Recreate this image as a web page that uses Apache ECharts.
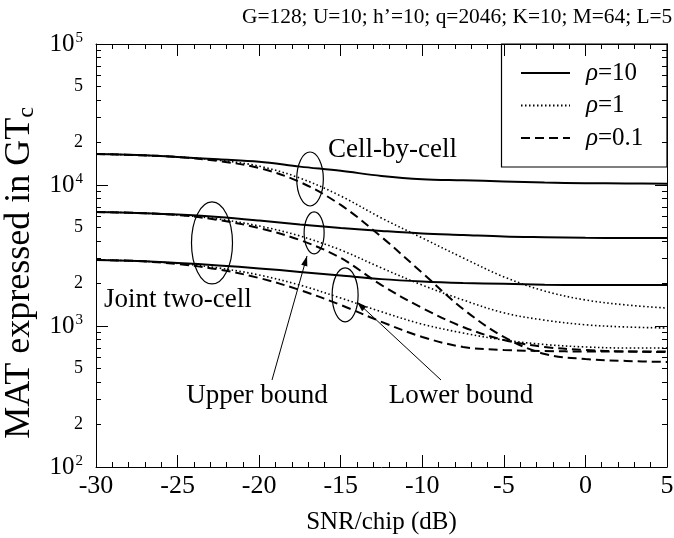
<!DOCTYPE html>
<html><head><meta charset="utf-8">
<script src="https://cdn.jsdelivr.net/npm/echarts@6/dist/echarts.min.js"></script>
<style>html,body{margin:0;padding:0;background:#fff}#c{width:674px;height:538px}</style>
</head><body><div id="c"></div>
<script>
// ---- data ----
const snr = [-30,-27.5,-25,-22.5,-20,-17.5,-15,-12.5,-10,-7.5,-5,-2.5,0,2.5,5];
const cellRho10  = [16600,16300,15800,15200,14600,13500,12600,11600,11000,10800,10600,10400,10300,10250,10200];
const cellRho1   = [16600,16300,15800,15000,13600,11200,8360,5830,4210,3040,2230,1770,1530,1410,1340];
const cellRho01  = [16600,16300,15800,14800,13200,10500,7220,4280,2380,1320,836,633,583,565,556];
const upperRho10 = [6440,6330,6180,5930,5600,5250,4950,4720,4530,4420,4310,4260,4220,4210,4210];
const upperRho1  = [6440,6330,6130,5740,5120,4350,3460,2580,1950,1530,1240,1100,1020,984,968];
const upperRho01 = [6440,6330,6130,5650,4950,4070,3040,1950,1340,984,796,710,676,659,654];
const lowerRho10 = [2940,2890,2800,2690,2560,2420,2280,2150,2070,2020,1990,1960,1950,1950,1950];
const lowerRho1  = [2940,2890,2780,2580,2300,1950,1580,1260,1030,892,796,739,710,698,698];
const lowerRho01 = [2940,2890,2750,2520,2190,1800,1410,1070,836,710,676,665,659,659,659];
const legendNames = ['\u03c1=10','\u03c1=1','\u03c1=0.1'];
const yLabelValues = [100,200,500,1000,2000,5000,10000,20000,50000,100000];
const yMinorTickValues = [200,300,400,500,600,700,800,900,2000,3000,4000,5000,6000,7000,8000,9000,20000,30000,40000,50000,60000,70000,80000,90000];
const yMajorTickValues = [100,1000,10000,100000];

const FONT = '"Liberation Serif","DejaVu Serif",serif';
const styles = [
  {type:'solid', width:2},
  {type:[1.5,2.5], width:1.6},
  {type:[9,5], width:2}
];
const groups = [
  [cellRho10, cellRho1, cellRho01],
  [upperRho10, upperRho1, upperRho01],
  [lowerRho10, lowerRho1, lowerRho01]
];
const series = [];
groups.forEach(g => g.forEach((arr, k) => {
  series.push({
    type:'line', name: legendNames[k], symbol:'none', showSymbol:false, smooth:0.35,
    xAxisIndex:0, yAxisIndex:0,
    lineStyle:{color:'#000', width:styles[k].width, type:styles[k].type},
    itemStyle:{color:'#000'},
    data: snr.map((x,i)=>[x, arr[i]])
  });
}));

function yFmt(v){
  const e = Math.round(Math.log10(v));
  if (Math.abs(Math.pow(10,e)-v) < 1e-6*v) return '{b|10}{s|'+e+'}';
  const p = Math.pow(10, Math.floor(Math.log10(v)+1e-9));
  return '{m|'+Math.round(v/p)+'}';
}
function xAxisOpt(pos, withLabels){
  const o = {type:'value', min:-30, max:5, interval:5, position:pos, splitLine:{show:false},
    axisLine:{show:true, onZero:false, lineStyle:{color:'#000', width:1}},
    axisTick:{show:true, inside:true, length:12, lineStyle:{color:'#000'}},
    minorTick:{show:true, splitNumber:5, length:5, lineStyle:{color:'#000'}},
    axisLabel: withLabels ? {fontFamily:FONT, fontSize:26, color:'#000', margin:6} : {show:false}};
  if (withLabels) {
    o.name = 'SNR/chip (dB)'; o.nameLocation = 'middle'; o.nameGap = 43;
    o.nameTextStyle = {fontFamily:FONT, fontSize:25, color:'#000'};
  }
  return o;
}
function yAxisOpt(pos, major, withLabels){
  const o = {type:'log', logBase:10, min:100, max:100000, position:pos, splitLine:{show:false},
    axisLine:{show:major, onZero:false, lineStyle:{color:'#000'}},
    axisTick:{show:true, inside:true, length: major ? 12 : 5,
      customValues: major ? yMajorTickValues : yMinorTickValues, lineStyle:{color:'#000'}},
    axisLabel:{show:false}};
  if (withLabels) {
    o.axisLabel = {customValues:yLabelValues, formatter:yFmt, margin:13, rich:{
      b:{fontFamily:FONT, fontSize:25, color:'#000', lineHeight:26, verticalAlign:'bottom'},
      s:{fontFamily:FONT, fontSize:15, color:'#000', verticalAlign:'top', padding:[0,0,10,1]},
      m:{fontFamily:FONT, fontSize:18, color:'#000'}}};
    o.name = '{t|MAT expressed in GT}{c|c}'; o.nameLocation = 'middle'; o.nameGap = 44;
    o.nameTextStyle = {padding:[0,35,0,0], rich:{
      t:{fontFamily:FONT, fontSize:36, color:'#000'},
      c:{fontFamily:FONT, fontSize:24, color:'#000', verticalAlign:'bottom', padding:[14,0,0,0]}}};
  }
  return o;
}

const chart = echarts.init(document.getElementById('c'));
chart.setOption({
  backgroundColor:'#fff',
  animation:false,
  title:{text:'G=128; U=10; h\u2019=10; q=2046; K=10; M=64; L=5', left:237, top:2,
    textStyle:{fontFamily:FONT, fontSize:21.4, fontWeight:'normal', color:'#000'}},
  grid:{left:96, right:7, top:44, bottom:71, outerBoundsMode:'none', containLabel:false},
  legend:{orient:'vertical', left:520, top:60, padding:0, itemGap:6.5, itemWidth:49, itemHeight:14,
    data:legendNames, selectedMode:false,
    itemStyle:{opacity:0},
    formatter: function(n){ return '{i|\u03c1}{n|' + n.slice(1) + '}'; },
    textStyle:{fontFamily:FONT, fontSize:25, color:'#000', lineHeight:26, padding:[0,0,0,11],
      rich:{i:{fontFamily:FONT, fontSize:25, fontStyle:'italic', color:'#000'}, n:{fontFamily:FONT, fontSize:25, color:'#000'}}}},
  xAxis:[ xAxisOpt('bottom', true), xAxisOpt('top', false) ],
  yAxis:[ yAxisOpt('left', true, true), yAxisOpt('left', false, false),
          yAxisOpt('right', true, false), yAxisOpt('right', false, false) ],
  series: series
});

// ---- annotations (ellipses placed in data coordinates) ----
const ellipses = [
  {at:[-16.88, 11030], rx:13.3, ry:27},
  {at:[-22.89, 3880], rx:20.5, ry:41},
  {at:[-16.63, 4570], rx:10, ry:21},
  {at:[-14.73, 1660], rx:13, ry:27}
];
const g = [];
ellipses.forEach(e => {
  const p = chart.convertToPixel({xAxisIndex:0, yAxisIndex:0}, e.at);
  g.push({type:'ellipse', shape:{cx:p[0], cy:p[1], rx:e.rx, ry:e.ry}, style:{fill:null, stroke:'#000', lineWidth:1.2}, z:10});
});
function arrow(x1,y1,x2,y2){
  g.push({type:'line', shape:{x1:x1,y1:y1,x2:x2,y2:y2}, style:{stroke:'#000', lineWidth:1}, z:10});
  const a = Math.atan2(y2-y1, x2-x1), L = 10, W = 3.2;
  const bx = x2 - L*Math.cos(a), by = y2 - L*Math.sin(a);
  g.push({type:'polygon', shape:{points:[[x2,y2],[bx - W*Math.sin(a), by + W*Math.cos(a)],[bx + W*Math.sin(a), by - W*Math.cos(a)]]}, style:{fill:'#000'}, z:10});
}
arrow(272,380,307,256);
arrow(441,380,357,302);
function label(txt,x,y,align){
  g.push({type:'text', x:x, y:y, style:{text:txt, font:'27px '+FONT, fill:'#000', align:align||'left', verticalAlign:'middle'}, z:10});
}
label('Cell-by-cell', 328, 150);
label('Joint two-cell', 104, 300);
label('Upper bound', 257, 396, 'center');
label('Lower bound', 461, 396, 'center');
g.push({type:'rect', shape:{x:501.5, y:44, width:165.5, height:123}, style:{fill:null, stroke:'#000', lineWidth:1.2}, z:10});
chart.setOption({graphic:g});
</script></body></html>
